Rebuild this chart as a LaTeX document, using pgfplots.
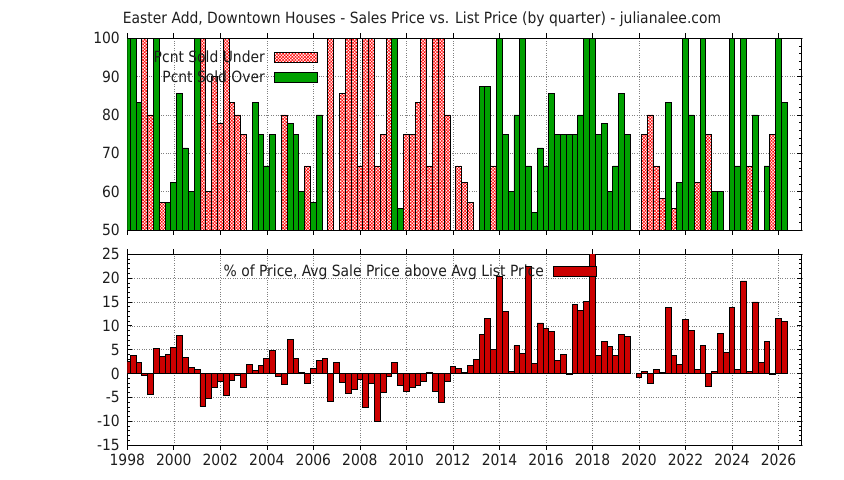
\documentclass[border=0pt]{standalone}
\usepackage{pgfplots}
\pgfplotsset{compat=1.18}
\usepackage{fontspec}
\setmainfont{DejaVu Sans Condensed}
\usetikzlibrary{patterns.meta}
\definecolor{barGreen}{RGB}{0,160,0}
\definecolor{barRed}{RGB}{204,0,0}
\definecolor{txt}{RGB}{30,30,30}
\newcommand{\lf}{\fontsize{15.5}{17}\selectfont}
\pgfplotsset{
  boxlegend/.style={legend image code/.code={\draw[##1] (0bp,-5bp) rectangle (43bp,5bp);}},
  common/.style={
    scale only axis, width=674.5bp,
    xmin=1998, xmax=2027,
    xtick={1998,2000,...,2026}, minor x tick num=1,
    xmajorgrids, xminorgrids, ymajorgrids,
    grid style={dotted, gray, line width=0.6bp},
    minor grid style={dotted, gray, line width=0.6bp},
    tick align=inside, major tick length=5bp, minor tick length=3bp,
    tick style={black, line width=0.7bp},
    axis line style={line width=0.9bp},
    ybar, bar width=0.25,
    /pgf/number format/assume math mode=true,
    /pgf/number format/1000 sep={},
    tick label style={font=\lf, text=txt},
    yticklabel style={xshift=-4bp},
    legend plot pos=right, legend cell align=right,
  },
}
\begin{document}
\begin{tikzpicture}
\path[use as bounding box] (0,0) rectangle (844bp,480bp);
\node[text=txt] at (422bp,461bp) {\lf Easter Add, Downtown Houses - Sales Price vs. List Price (by quarter) - julianalee.com};
\begin{axis}[common,
  at={(127.3bp,250bp)}, anchor=south west, height=191.7bp,
  ymin=50, ymax=100, ytick={50,60,...,100}, minor y tick num=4,
  xticklabels={},
  legend style={at={(0.2827,0.945)}, anchor=north east, draw=none, fill=none, inner sep=0pt, row sep=3bp, /tikz/column sep=7bp, font=\lf, text=txt},
]
\addplot[boxlegend, bar shift=0pt, draw=black, line width=0.9bp, preaction={fill=white}, pattern={Hatch[distance=2.2bp,angle=45,line width=0.55bp]}, pattern color=red] coordinates {
(1998.75,100) (1999.00,80) (1999.50,57.1) (2001.25,100) (2001.50,60) (2001.75,90)
(2002.00,77.8) (2002.25,100) (2002.50,83.3) (2002.75,80) (2003.00,75) (2004.75,80)
(2005.75,66.7) (2006.75,100) (2007.25,85.7) (2007.50,100) (2007.75,100) (2008.00,66.7)
(2008.25,100) (2008.50,100) (2008.75,66.7) (2009.00,75) (2009.25,100) (2010.00,75)
(2010.25,75) (2010.50,83.3) (2010.75,100) (2011.00,66.7) (2011.25,100) (2011.50,100)
(2011.75,80) (2012.25,66.7) (2012.50,62.5) (2012.75,57.1) (2013.75,66.7) (2020.25,75)
(2020.50,80) (2020.75,66.7) (2021.00,58.3) (2021.50,55.6) (2022.50,62.5) (2023.00,75)
(2024.75,66.7) (2025.75,75)
};
\addlegendentry{Pcnt Sold Under}
\addplot[boxlegend, bar shift=0pt, draw=black, line width=0.9bp, fill=barGreen] coordinates {
(1998.00,100) (1998.25,100) (1998.50,83.3) (1999.25,100) (1999.75,57.1) (2000.00,62.5)
(2000.25,85.7) (2000.50,71.4) (2000.75,60) (2001.00,100) (2003.50,83.3) (2003.75,75)
(2004.00,66.7) (2004.25,75) (2005.00,77.8) (2005.25,75) (2005.50,60) (2006.00,57.1)
(2006.25,80) (2009.50,100) (2009.75,55.6) (2013.25,87.5) (2013.50,87.5) (2014.00,100)
(2014.25,75) (2014.50,60) (2014.75,80) (2015.00,100) (2015.25,66.7) (2015.50,54.5)
(2015.75,71.4) (2016.00,66.7) (2016.25,85.7) (2016.50,75) (2016.75,75) (2017.00,75)
(2017.25,75) (2017.50,80) (2017.75,100) (2018.00,100) (2018.25,75) (2018.50,77.8)
(2018.75,60) (2019.00,66.7) (2019.25,85.7) (2019.50,75) (2021.25,83.3) (2021.75,62.5)
(2022.00,100) (2022.25,80) (2022.75,100) (2023.25,60) (2023.50,60) (2024.00,100)
(2024.25,66.7) (2024.50,100) (2025.00,80) (2025.50,66.7) (2026.00,100) (2026.25,83.3)
};
\addlegendentry{Pcnt Sold Over}
\end{axis}
\begin{axis}[common,
  at={(127.3bp,35bp)}, anchor=south west, height=190.7bp,
  ymin=-15, ymax=25, ytick={-15,-10,...,25}, minor y tick num=4,
  xticklabel style={yshift=-1bp},
  legend style={at={(0.6964,0.955)}, anchor=north east, draw=none, fill=none, inner sep=0pt, /tikz/column sep=7bp, font=\lf, text=txt},
]
\addplot[boxlegend, bar shift=0pt, draw=black, line width=0.9bp, fill=barRed] coordinates {
(1998.00,2.5) (1998.25,3.8) (1998.50,2.3) (1998.75,-0.4) (1999.00,-4.4) (1999.25,5.2)
(1999.50,3.5) (1999.75,4.0) (2000.00,5.4) (2000.25,8.0) (2000.50,3.3) (2000.75,1.25)
(2001.00,0.8) (2001.25,-6.9) (2001.50,-5.2) (2001.75,-2.9) (2002.00,-1.6) (2002.25,-4.6)
(2002.50,-1.5) (2002.75,-0.4) (2003.00,-2.9) (2003.25,1.9) (2003.50,0.6) (2003.75,1.7)
(2004.00,3.1) (2004.25,4.8) (2004.50,-0.7) (2004.75,-2.3) (2005.00,7.1) (2005.25,3.1)
(2005.50,0.2) (2005.75,-2.1) (2006.00,1.0) (2006.25,2.7) (2006.50,3.1) (2006.75,-5.8)
(2007.00,2.3) (2007.25,-1.8) (2007.50,-4.2) (2007.75,-3.3) (2008.00,-1.25) (2008.25,-7.1)
(2008.50,-2.1) (2008.75,-10.0) (2009.00,-4.0) (2009.25,-0.6) (2009.50,2.3) (2009.75,-2.5)
(2010.00,-3.75) (2010.25,-2.9) (2010.50,-2.5) (2010.75,-1.7) (2011.00,0.2) (2011.25,-3.75)
(2011.50,-6.1) (2011.75,-1.7) (2012.00,1.5) (2012.25,1.0) (2012.50,0.2) (2012.75,1.7)
(2013.00,2.9) (2013.25,8.1) (2013.50,11.5) (2013.75,5.0) (2014.00,20.3) (2014.25,13.1)
(2014.50,0.4) (2014.75,5.8) (2015.00,4.2) (2015.25,22.4) (2015.50,2.1) (2015.75,10.6)
(2016.00,9.4) (2016.25,8.75) (2016.50,2.7) (2016.75,4.0) (2017.00,-0.2) (2017.25,14.4)
(2017.50,13.3) (2017.75,15.2) (2018.00,26) (2018.25,3.75) (2018.50,6.7) (2018.75,5.6)
(2019.00,3.75) (2019.25,8.1) (2019.50,7.7) (2020.00,-0.8) (2020.25,0.4) (2020.50,-2.1)
(2020.75,0.8) (2021.00,0.2) (2021.25,13.75) (2021.50,3.75) (2021.75,1.9) (2022.00,11.25)
(2022.25,9.0) (2022.50,0.8) (2022.75,5.8) (2023.00,-2.7) (2023.25,0.4) (2023.50,8.3)
(2023.75,4.4) (2024.00,13.75) (2024.25,0.8) (2024.50,19.4) (2024.75,0.4) (2025.00,15.0)
(2025.25,2.3) (2025.50,6.7) (2025.75,-0.2) (2026.00,11.5) (2026.25,11.0)
};
\addlegendentry{\% of Price, Avg Sale Price above Avg List Price}
\end{axis}
\end{tikzpicture}
\end{document}
